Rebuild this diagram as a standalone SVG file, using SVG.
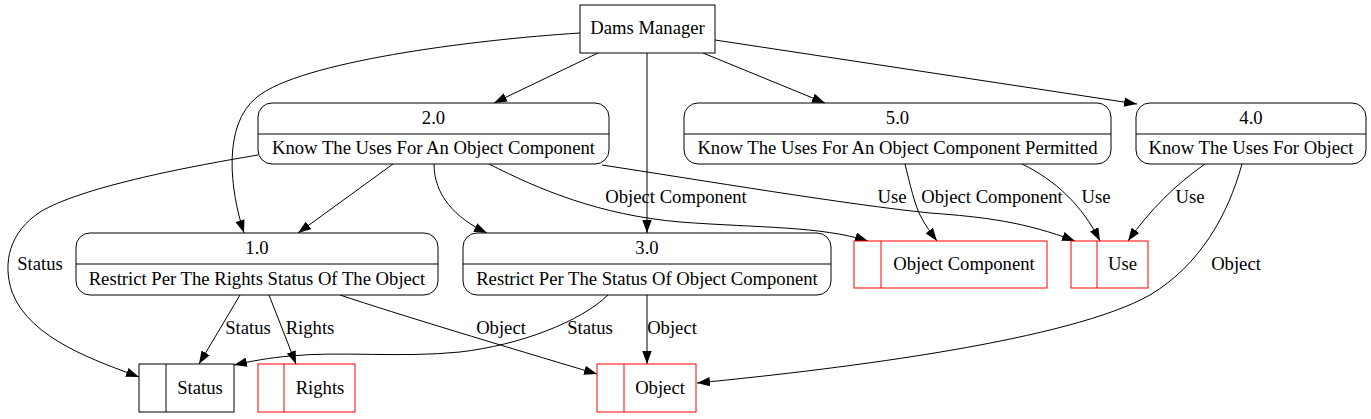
<svg xmlns="http://www.w3.org/2000/svg" width="1371" height="419" viewBox="0 0 1371 419" font-family="'Liberation Serif', 'Times New Roman', Times, serif" font-size="18.67">
<style>
text{text-anchor:middle;fill:#000}
.proc{fill:#fff;stroke:#000;stroke-width:1}
.ext{fill:#fff;stroke:#000;stroke-width:1}
.store{fill:#fff;stroke:#ff0000;stroke-width:1}
.storeb{fill:#fff;stroke:#000;stroke-width:1}
.e{fill:none;stroke:#000;stroke-width:1;marker-end:url(#ah)}
</style>
<defs>
<marker id="ah" viewBox="0 0 13 9.4" refX="13" refY="4.7" markerWidth="13" markerHeight="9.4" markerUnits="userSpaceOnUse" orient="auto">
<path d="M0,0 L13,4.7 L0,9.4 z" fill="#000"/>
</marker>
</defs>
<rect width="1371" height="419" fill="#fff"/>
<g id="connectors">
<path class="e" d="M580,33 C470,40 300,62 257,97 C222,125 230,190 244,233"/>
<path class="e" d="M598,53 L494,103"/>
<path class="e" d="M647,53 L647,233"/>
<path class="e" d="M703,53 L825,103"/>
<path class="e" d="M715,40 L1137,104"/>
<path class="e" d="M258,155 C180,168 80,188 40,212 C10,232 2,262 12,292 C30,340 100,362 139,377"/>
<path class="e" d="M393,164 L298,233"/>
<path class="e" d="M434,164 C434,195 455,218 487,233"/>
<path class="e" d="M489,164 C540,190 600,215 680,222 C760,228 820,226 868,241"/>
<path class="e" d="M602,165 C700,180 850,205 930,213 C985,217 1025,222 1075,241"/>
<path class="e" d="M905,164 C910,185 915,205 920,215 C925,225 931,233 937,241"/>
<path class="e" d="M1022,164 C1055,180 1082,205 1100,241"/>
<path class="e" d="M1205,164 C1175,185 1150,210 1128,241"/>
<path class="e" d="M1242,164 C1228,215 1200,265 1150,295 C1070,340 850,368 697,383"/>
<path class="e" d="M240,295 L199,364"/>
<path class="e" d="M269,295 L296,364"/>
<path class="e" d="M340,295 C400,315 500,345 597,374"/>
<path class="e" d="M608,295 C580,322 520,345 460,352 C400,358 340,351 290,356 C268,358 252,361 234,365"/>
<path class="e" d="M647,295 L647,364"/>
<text x="40" y="270">Status</text>
<text x="676" y="203">Object Component</text>
<text x="892" y="203">Use</text>
<text x="992" y="203">Object Component</text>
<text x="1096" y="203">Use</text>
<text x="1190" y="203">Use</text>
<text x="1236" y="270">Object</text>
<text x="248" y="334">Status</text>
<text x="310" y="334">Rights</text>
<text x="501" y="334">Object</text>
<text x="590" y="334">Status</text>
<text x="672" y="334">Object</text>
</g>
<g id="dams_manager">
<rect class="ext" x="580" y="5" width="135" height="48"/>
<text x="647.5" y="34">Dams Manager</text>
</g>
<g id="p2">
<rect class="proc" x="258" y="103" width="351" height="61" rx="14" ry="14"/>
<line x1="258" y1="134" x2="609" y2="134" stroke="#000"/>
<text x="433.5" y="124">2.0</text>
<text x="433.5" y="154">Know The Uses For An Object Component</text>
</g>
<g id="p5">
<rect class="proc" x="684" y="103" width="427" height="61" rx="14" ry="14"/>
<line x1="684" y1="134" x2="1111" y2="134" stroke="#000"/>
<text x="897.5" y="124">5.0</text>
<text x="897.5" y="154">Know The Uses For An Object Component Permitted</text>
</g>
<g id="p4">
<rect class="proc" x="1136" y="103" width="230" height="61" rx="14" ry="14"/>
<line x1="1136" y1="134" x2="1366" y2="134" stroke="#000"/>
<text x="1251" y="124">4.0</text>
<text x="1251" y="154">Know The Uses For Object</text>
</g>
<g id="p1">
<rect class="proc" x="76" y="233" width="362" height="62" rx="14" ry="14"/>
<line x1="76" y1="264" x2="438" y2="264" stroke="#000"/>
<text x="257" y="254">1.0</text>
<text x="257" y="285">Restrict Per The Rights Status Of The Object</text>
</g>
<g id="p3">
<rect class="proc" x="463" y="233" width="368" height="62" rx="14" ry="14"/>
<line x1="463" y1="264" x2="831" y2="264" stroke="#000"/>
<text x="647" y="254">3.0</text>
<text x="647" y="285">Restrict Per The Status Of Object Component</text>
</g>
<g id="ds_status">
<rect class="storeb" x="139" y="364" width="95" height="48"/>
<line x1="166" y1="364" x2="166" y2="412" stroke="#000"/>
<text x="200" y="394">Status</text>
</g>
<g id="ds_rights">
<rect class="store" x="258" y="364" width="97" height="48"/>
<line x1="284" y1="364" x2="284" y2="412" stroke="#ff0000"/>
<text x="320" y="394">Rights</text>
</g>
<g id="ds_object">
<rect class="store" x="597" y="364" width="99" height="48"/>
<line x1="624" y1="364" x2="624" y2="412" stroke="#ff0000"/>
<text x="660" y="394">Object</text>
</g>
<g id="ds_object_component">
<rect class="store" x="854" y="241" width="193" height="47"/>
<line x1="881" y1="241" x2="881" y2="288" stroke="#ff0000"/>
<text x="964" y="270">Object Component</text>
</g>
<g id="ds_use">
<rect class="store" x="1071" y="241" width="77" height="47"/>
<line x1="1097" y1="241" x2="1097" y2="288" stroke="#ff0000"/>
<text x="1122.5" y="270">Use</text>
</g>
</svg>
